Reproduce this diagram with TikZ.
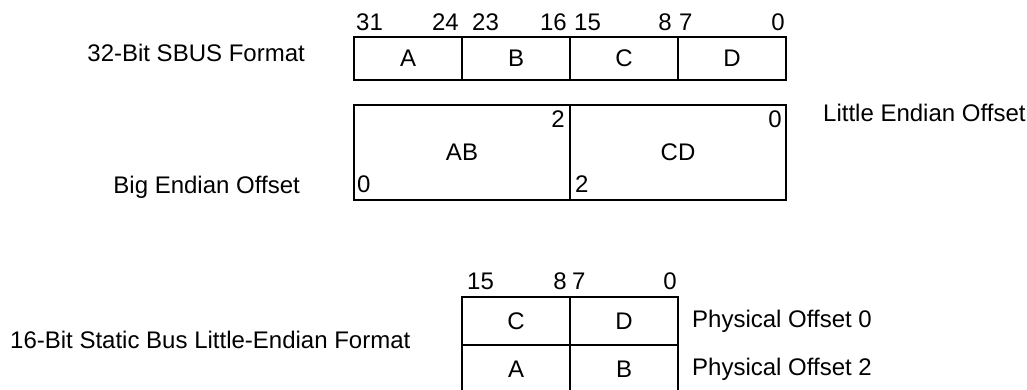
\documentclass[tikz,border=0pt]{standalone}
\usepackage{fontspec}
\setmainfont{Liberation Sans}
\usetikzlibrary{positioning}

\begin{document}
\begin{tikzpicture}[
    x=1pt, y=-1pt,
    node distance=0pt,
    every node/.style={
        font=\fontsize{24}{28}\selectfont
    },
    cell/.style={
        rectangle,
        draw,
        line width=1.4pt,
        inner sep=0pt,
        outer sep=0pt,
        minimum width=108pt,
        minimum height=43pt
    },
    widecell/.style={
        cell,
        minimum width=216pt,
        minimum height=95pt
    },
    rowcell/.style={
        cell,
        minimum height=48pt
    },
    bitnum/.style={
        inner sep=0pt
    },
    caption/.style={
        inner sep=0pt
    }
]

\useasboundingbox (0,0) rectangle (1027,389);

% ------------------------------------------------
% 32-bit SBUS format
% ------------------------------------------------

\node[cell] (a) at (408,58.5) {A};
\node[cell, right=of a] (b) {B};
\node[cell, right=of b] (c) {C};
\node[cell, right=of c] (d) {D};

\node[bitnum, anchor=base west] (b31) at ([xshift=2pt, yshift=7pt]a.north west) {31};
\node[bitnum, anchor=base east] (b24) at ([xshift=-3pt, yshift=7pt]a.north east) {24};
\node[bitnum, anchor=base west] (b23) at ([xshift=10pt, yshift=7pt]b.north west) {23};
\node[bitnum, anchor=base east] (b16) at ([xshift=-3pt, yshift=7pt]b.north east) {16};
\node[bitnum, anchor=base west] (b15) at ([xshift=4pt, yshift=7pt]c.north west) {15};
\node[bitnum, anchor=base east] (b8) at ([xshift=-6pt, yshift=7pt]c.north east) {8};
\node[bitnum, anchor=base west] (b7) at ([xshift=1pt, yshift=7pt]d.north west) {7};
\node[bitnum, anchor=base east] (b0) at ([xshift=-1pt, yshift=7pt]d.north east) {0};

\node[caption, anchor=base east] (sbus) at ([xshift=-49pt, yshift=-2.5pt]a.west) {32-Bit SBUS Format};

% ------------------------------------------------
% Offsets
% ------------------------------------------------

\node[widecell] (ab) at (462,152.5) {AB};
\node[widecell, right=of ab] (cd) {CD};

\node[bitnum, anchor=north east] (abtop) at ([xshift=-5pt, yshift=-6pt]ab.north east) {2};
\node[bitnum, anchor=north east] (cdtop) at ([xshift=-4pt, yshift=-6pt]cd.north east) {0};
\node[bitnum, anchor=base west] (abbot) at ([xshift=3pt, yshift=8pt]ab.south west) {0};
\node[bitnum, anchor=base west] (cdbot) at ([xshift=5pt, yshift=8pt]cd.south west) {2};

\node[caption, anchor=base west] (little) at ([xshift=37pt, yshift=-16pt]cd.north east) {Little Endian Offset};
\node[caption, anchor=base east] (big) at ([xshift=-54pt, yshift=7pt]ab.south west) {Big Endian Offset};

% ------------------------------------------------
% 16-bit static bus
% ------------------------------------------------

\node[rowcell] (c2) at (516,321) {C};
\node[rowcell, right=of c2] (d2) {D};
\node[rowcell, below=of c2] (a2) {A};
\node[rowcell, right=of a2] (b2) {B};

\node[bitnum, anchor=base west] (s15) at ([xshift=5pt, yshift=8pt]c2.north west) {15};
\node[bitnum, anchor=base east] (s8) at ([xshift=-3pt, yshift=8pt]c2.north east) {8};
\node[bitnum, anchor=base west] (s7) at ([xshift=2pt, yshift=8pt]d2.north west) {7};
\node[bitnum, anchor=base east] (s0) at ([xshift=-1pt, yshift=8pt]d2.north east) {0};

\node[caption, anchor=base west] (phys0) at ([xshift=14pt, yshift=-6pt]d2.east) {Physical Offset 0};
\node[caption, anchor=base west] (phys2) at ([xshift=14pt, yshift=-6pt]b2.east) {Physical Offset 2};

\node[caption, anchor=base west] (static) at (10,348) {16-Bit Static Bus Little-Endian Format};

\end{tikzpicture}
\end{document}
